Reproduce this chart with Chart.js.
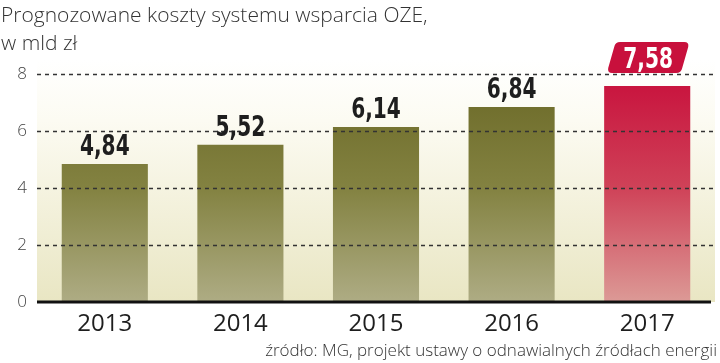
<!DOCTYPE html>
<html>
<head>
<meta charset="utf-8">
<script src="https://cdn.jsdelivr.net/npm/chart.js@4/dist/chart.umd.min.js"></script>
<style>
  html, body { margin: 0; padding: 0; background: #fff; }
  #wrap { width: 720px; height: 363px; }
</style>
</head>
<body>
<div id="wrap"><canvas id="oze" width="720" height="363"></canvas></div>
<script>
// dane
const years = ['2013', '2014', '2015', '2016', '2017'];
const costs = [4.84, 5.52, 6.14, 6.84, 7.58];
const costLabels = ['4,84', '5,52', '6,14', '6,84', '7,58'];
const yTicks = [0, 2, 4, 6, 8];
const titleLines = ['Prognozowane koszty systemu wsparcia OZE,', 'w mld zł'];
const sourceText = 'źródło: MG, projekt ustawy o odnawialnych źródłach energii';

const labelFont = '"DejaVu Sans Condensed", "DejaVu Sans", sans-serif';
const lightFont = '"Open Sans", Lato, "Noto Sans", sans-serif';

function barFill(ctx) {
    const chart = ctx.chart;
    const area = chart.chartArea;
    if (!area) return '#777a3a';
    const g = chart.ctx.createLinearGradient(0, area.top, 0, area.bottom);
    if (ctx.dataIndex === years.length - 1) {
        g.addColorStop(0, '#c8103c');
        g.addColorStop(0.5, '#cf4258');
        g.addColorStop(1, '#dc9a96');
    } else {
        g.addColorStop(0, '#6a6826');
        g.addColorStop(0.5, '#838241');
        g.addColorStop(1, '#aeac84');
    }
    return g;
}

// tekst zwezony w poziomie (brak kroju condensed)
function narrowText(ctx, txt, x, y, sx) {
    ctx.save();
    ctx.translate(x, y);
    ctx.scale(sx, 1);
    ctx.fillText(txt, 0, 0);
    ctx.restore();
}

// tlo, siatka, tytul, etykiety wartosci, zrodlo
const decor = {
    id: 'decor',
    beforeDraw(chart) {
        const { ctx, chartArea: a } = chart;
        ctx.save();
        const g = ctx.createLinearGradient(0, 60, 0, a.bottom);
        g.addColorStop(0, '#ffffff');
        g.addColorStop(0.25, '#fcfbf2');
        g.addColorStop(1, '#e9e6c3');
        ctx.fillStyle = g;
        ctx.fillRect(a.left, 60, a.right - a.left, a.bottom - 60);
        ctx.restore();
    },
    afterDatasetsDraw(chart) {
        const { ctx, chartArea: a, scales } = chart;
        ctx.save();
        ctx.strokeStyle = '#333';
        ctx.lineWidth = 1.3;
        ctx.setLineDash([4, 4]);
        yTicks.forEach(v => {
            if (v === 0) return;
            const y = Math.round(scales.y.getPixelForValue(v)) + 0.5;
            ctx.beginPath();
            ctx.moveTo(a.left, y);
            ctx.lineTo(a.right, y);
            ctx.stroke();
        });
        ctx.setLineDash([]);
        // linia zero
        const y0 = scales.y.getPixelForValue(0);
        ctx.strokeStyle = '#111';
        ctx.lineWidth = 3;
        ctx.beginPath();
        ctx.moveTo(a.left, y0);
        ctx.lineTo(a.right - 4, y0);
        ctx.stroke();
        ctx.restore();
    },
    afterDraw(chart) {
        const { ctx } = chart;
        ctx.save();
        // tytul
        ctx.fillStyle = '#333';
        ctx.font = '300 21px ' + lightFont;
        ctx.textBaseline = 'alphabetic';
        ctx.textAlign = 'left';
        ctx.fillText(titleLines[0], 1, 22);
        ctx.fillText(titleLines[1], 1, 50);

        // wartosci
        const meta = chart.getDatasetMeta(0);
        ctx.font = 'bold 28px ' + labelFont;
        ctx.textAlign = 'center';
        ctx.textBaseline = 'alphabetic';
        meta.data.forEach((bar, i) => {
            const txt = costLabels[i];
            if (i === years.length - 1) {
                const w = 74, h = 31, s = 4;
                const x = bar.x - w / 2 + 1, yb = bar.y - 13;
                const r = 5;
                ctx.fillStyle = '#c8103c';
                ctx.beginPath();
                ctx.moveTo(x + s + r, yb - h);
                ctx.lineTo(x + w + s - r, yb - h);
                ctx.quadraticCurveTo(x + w + s, yb - h, x + w + s - 1, yb - h + r);
                ctx.lineTo(x + w - s + 1, yb - r);
                ctx.quadraticCurveTo(x + w - s, yb, x + w - s - r, yb);
                ctx.lineTo(x - s + r, yb);
                ctx.quadraticCurveTo(x - s, yb, x - s + 1, yb - r);
                ctx.lineTo(x + s - 1, yb - h + r);
                ctx.quadraticCurveTo(x + s, yb - h, x + s + r, yb - h);
                ctx.closePath();
                ctx.fill();
                ctx.fillStyle = '#fff';
                narrowText(ctx, txt, bar.x + 1, yb - 5, 0.8);
            } else {
                ctx.fillStyle = '#1e1e1e';
                narrowText(ctx, txt, bar.x, bar.y - 9, 0.8);
            }
        });

        // zrodlo
        ctx.font = '300 17px ' + lightFont;
        ctx.fillStyle = '#333';
        ctx.textAlign = 'right';
        ctx.fillText(sourceText, 717, 356);
        ctx.restore();
    }
};

const ozeCtx = document.getElementById('oze').getContext('2d');
const ozeChart = new Chart(ozeCtx, {
    type: 'bar',
    data: {
        labels: years,
        datasets: [{
            data: costs,
            backgroundColor: barFill,
            borderWidth: 0,
            barPercentage: 0.635,
            categoryPercentage: 1
        }]
    },
    options: {
        responsive: false,
        animation: false,
        layout: { padding: { top: 74, right: 5, left: 0, bottom: 0 } },
        plugins: {
            legend: { display: false },
            tooltip: { enabled: false }
        },
        scales: {
            x: {
                grid: { display: false, drawTicks: false },
                border: { display: false },
                ticks: {
                    color: '#1e1e1e',
                    font: { family: lightFont, size: 24, weight: 500 },
                    padding: 8
                },
                afterFit: s => { s.height = 61; }
            },
            y: {
                min: 0,
                max: 8,
                afterBuildTicks: s => { s.ticks = yTicks.map(v => ({ value: v })); },
                grid: { display: false, drawTicks: false },
                border: { display: false },
                ticks: {
                    color: '#444',
                    font: { family: lightFont, size: 17, weight: 300 },
                    padding: 10
                },
                afterFit: s => { s.width = 37; }
            }
        }
    },
    plugins: [decor]
});
</script>
</body>
</html>
